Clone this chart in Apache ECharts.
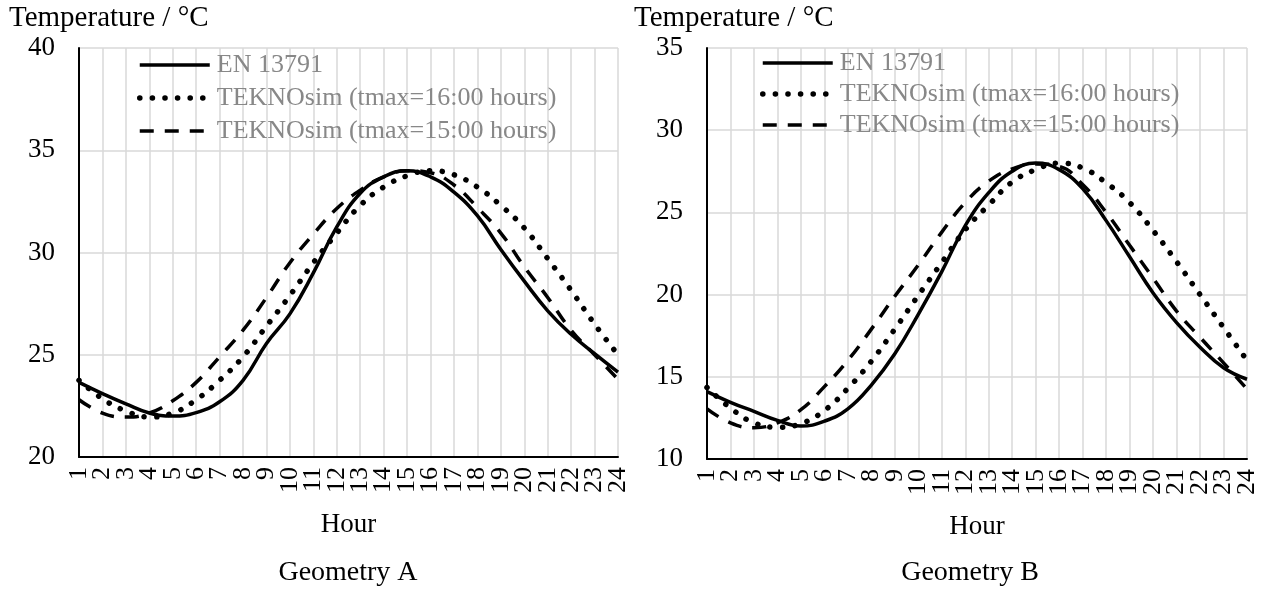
<!DOCTYPE html>
<html>
<head>
<meta charset="utf-8">
<script src="https://cdn.jsdelivr.net/npm/echarts@6/dist/echarts.min.js"></script>
<style>
html,body{margin:0;padding:0;background:#fff;}
#chart{width:1263px;height:592px;}
</style>
</head>
<body>
<div id="chart"></div>
<script>
const hours = ['1','2','3','4','5','6','7','8','9','10','11','12','13','14','15','16','17','18','19','20','21','22','23','24'];
const seriesNames = ['EN 13791', 'TEKNOsim (tmax=16:00 hours)', 'TEKNOsim (tmax=15:00 hours)'];

// Geometry A
const aEN  = [23.65, 23.1, 22.6, 22.15, 22.0, 22.17, 22.7, 23.75, 25.55, 27.0, 29.0, 31.25, 32.9, 33.7, 34.0, 33.7, 32.95, 31.8, 30.15, 28.6, 27.15, 26.0, 25.05, 24.15];
const aT16 = [23.75, 22.85, 22.25, 21.96, 22.15, 22.8, 23.75, 24.9, 26.4, 27.9, 29.5, 30.95, 32.3, 33.2, 33.75, 34.0, 33.8, 33.2, 32.3, 31.2, 29.7, 28.15, 26.5, 25.0];
const aT15 = [22.8, 22.15, 21.95, 22.15, 22.75, 23.65, 24.9, 26.2, 27.8, 29.5, 30.9, 32.15, 33.05, 33.7, 34.0, 33.9, 33.3, 32.2, 30.95, 29.3, 27.8, 26.2, 25.0, 23.8];

// Geometry B
const bEN  = [14.1, 13.45, 12.9, 12.35, 12.0, 12.3, 13.05, 14.5, 16.4, 18.8, 21.4, 24.2, 26.2, 27.5, 28.0, 27.6, 26.45, 24.5, 22.3, 20.1, 18.3, 16.8, 15.55, 14.85];
const bT16 = [14.35, 13.1, 12.2, 11.93, 12.15, 12.95, 14.3, 15.95, 17.9, 19.95, 21.95, 23.95, 25.45, 26.85, 27.6, 28.0, 27.7, 26.8, 25.6, 23.9, 22.0, 20.0, 18.0, 16.0];
const bT15 = [13.05, 12.2, 11.9, 12.2, 13.0, 14.4, 16.0, 17.9, 19.9, 21.8, 23.8, 25.6, 26.9, 27.65, 27.95, 27.8, 26.7, 25.0, 23.0, 21.0, 19.0, 17.4, 15.85, 14.25];

const aTicks = {min: 20, max: 40, interval: 5};
const bTicks = {min: 10, max: 35, interval: 5};

const FONT = '"Liberation Serif", "Times New Roman", serif';
const lineStyles = [
  {color: '#000', width: 3.5, type: 'solid'},
  {color: '#000', width: 5.5, type: [0.1, 12.5], cap: 'round'},
  {color: '#000', width: 3.5, type: [14, 11], cap: 'butt'}
];

function xAxis(gridIndex) {
  return {
    type: 'category', gridIndex: gridIndex, data: hours, boundaryGap: false,
    name: 'Hour', nameLocation: 'middle', nameGap: 54,
    nameTextStyle: {fontFamily: FONT, fontSize: 27, color: '#000'},
    axisLine: {show: true, lineStyle: {color: '#000', width: 2}},
    axisTick: {show: false},
    axisLabel: {rotate: 90, interval: 0, margin: 10, fontFamily: FONT, fontSize: 26, color: '#000'},
    splitLine: {show: true, interval: 0, lineStyle: {color: '#d9d9d9', width: 1.5}}
  };
}
function yAxis(gridIndex, t) {
  return {
    type: 'value', gridIndex: gridIndex, min: t.min, max: t.max, interval: t.interval,
    axisLine: {show: true, lineStyle: {color: '#000', width: 2}},
    axisTick: {show: false},
    axisLabel: {margin: 24, fontFamily: FONT, fontSize: 27, color: '#000'},
    splitLine: {show: true, lineStyle: {color: '#d9d9d9', width: 1.5}}
  };
}
function makeSeries(idx, arrs) {
  return arrs.map((d, i) => ({
    name: seriesNames[i], type: 'line', xAxisIndex: idx, yAxisIndex: idx,
    data: d, symbol: 'none', showSymbol: false, smooth: 0.45, lineStyle: lineStyles[i], z: 5 - i
  }));
}
function legend(left, top, gap) {
  return {
    orient: 'vertical', left: left, top: top, itemWidth: 70, itemHeight: 26, itemGap: gap,
    padding: 0,
    data: seriesNames.map((n, i) => ({name: n, lineStyle: lineStyles[i], itemStyle: {opacity: 0}})),
    itemStyle: {opacity: 0},
    selectedMode: false,
    textStyle: {fontFamily: FONT, fontSize: 26, color: '#888888', padding: [0, 0, 0, 2]}
  };
}

const chart = echarts.init(document.getElementById('chart'), null, {renderer: 'canvas'});
chart.setOption({
  animation: false,
  backgroundColor: '#fff',
  grid: [
    {left: 79, top: 48, width: 539, height: 409},
    {left: 707, top: 48, width: 540, height: 411}
  ],
  xAxis: [xAxis(0), xAxis(1)],
  yAxis: [yAxis(0, aTicks), yAxis(1, bTicks)],
  legend: [legend(137, 52, 7), legend(760, 50, 5)],
  series: [].concat(makeSeries(0, [aEN, aT16, aT15]), makeSeries(1, [bEN, bT16, bT15])),
  graphic: [
    {type: 'text', left: 9, top: 4, style: {text: 'Temperature / °C', font: '29px ' + FONT, fill: '#000'}},
    {type: 'text', left: 634, top: 4, style: {text: 'Temperature / °C', font: '29px ' + FONT, fill: '#000'}},
    {type: 'text', x: 348, y: 573, style: {text: 'Geometry A', font: '28px ' + FONT, fill: '#000', align: 'center', verticalAlign: 'middle', textAlign: 'center', textVerticalAlign: 'middle'}},
    {type: 'text', x: 970, y: 573, style: {text: 'Geometry B', font: '28px ' + FONT, fill: '#000', align: 'center', verticalAlign: 'middle', textAlign: 'center', textVerticalAlign: 'middle'}}
  ]
});
</script>
</body>
</html>
